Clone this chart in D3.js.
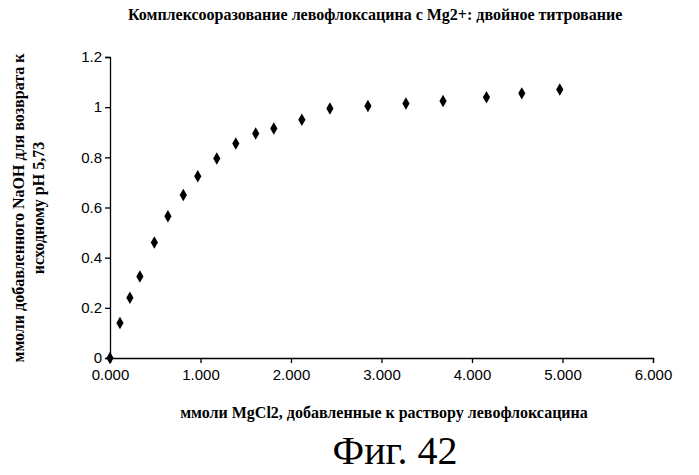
<!DOCTYPE html>
<html><head><meta charset="utf-8">
<script src="https://cdn.jsdelivr.net/npm/d3@7"></script>
<style>body{margin:0;background:#fff}text{font-family:"Liberation Serif",serif;fill:#000}</style>
</head><body><svg id="c" width="699" height="475"></svg>
<script>
// mmol MgCl2 added vs mmol NaOH added
var xVals = [0, 0.11, 0.22, 0.33, 0.49, 0.64, 0.81, 0.97, 1.18, 1.39, 1.61, 1.81, 2.12, 2.43, 2.85, 3.27, 3.68, 4.16, 4.55, 4.97];
var yVals = [0, 0.14, 0.24, 0.325, 0.46, 0.565, 0.65, 0.725, 0.795, 0.855, 0.895, 0.915, 0.95, 0.995, 1.005, 1.015, 1.025, 1.04, 1.055, 1.07];
var xTicks = [0, 1, 2, 3, 4, 5, 6];
var yTicks = [0, 0.2, 0.4, 0.6, 0.8, 1, 1.2];

var svg = d3.select("#c");
var x = d3.scaleLinear().domain([0, 6]).range([110, 653]);
var y = d3.scaleLinear().domain([0, 1.2]).range([358, 57]);

svg.append("g").attr("transform", "translate(0,358)")
  .call(d3.axisBottom(x).tickValues(xTicks).tickFormat(d3.format(".3f")).tickSize(5))
  .call(g => g.selectAll("text").style("font-family", "Liberation Sans, sans-serif").style("font-size", "15px").attr("dy", "0.9em"));
svg.append("g").attr("transform", "translate(110,0)")
  .call(d3.axisLeft(y).tickValues(yTicks).tickFormat(d => d === 0 || d === 1 ? d : d3.format(".1f")(d)).tickSize(5))
  .call(g => g.selectAll("text").style("font-family", "Liberation Sans, sans-serif").style("font-size", "15px"));
svg.selectAll(".domain, .tick line").attr("stroke", "#000").attr("stroke-width", 1.3);

svg.append("g").selectAll("path").data(xVals).enter().append("path")
  .attr("d", d3.symbol(d3.symbolDiamond, 45))
  .attr("transform", (d, i) => "translate(" + x(d) + "," + y(yVals[i]) + ")")
  .attr("fill", "#000");

svg.append("text").attr("x", 128).attr("y", 20).style("font-size", "16px").style("font-weight", "bold")
  .text("Комплексооразование левофлоксацина с Mg2+: двойное титрование");
svg.append("text").attr("x", 384).attr("y", 418).attr("text-anchor", "middle").style("font-size", "16px").style("font-weight", "bold")
  .text("ммоли MgCl2, добавленные к раствору левофлоксацина");
svg.append("text").attr("transform", "translate(24,208) rotate(-90)").attr("text-anchor", "middle").style("font-size", "16px").style("font-weight", "bold")
  .text("ммоли добавленного NaOH для возврата к");
svg.append("text").attr("transform", "translate(44,208) rotate(-90)").attr("text-anchor", "middle").style("font-size", "16px").style("font-weight", "bold")
  .text("исходному pH 5,73");
svg.append("text").attr("x", 395).attr("y", 464).attr("text-anchor", "middle").style("font-size", "40px")
  .text("Фиг. 42");
</script></body></html>
